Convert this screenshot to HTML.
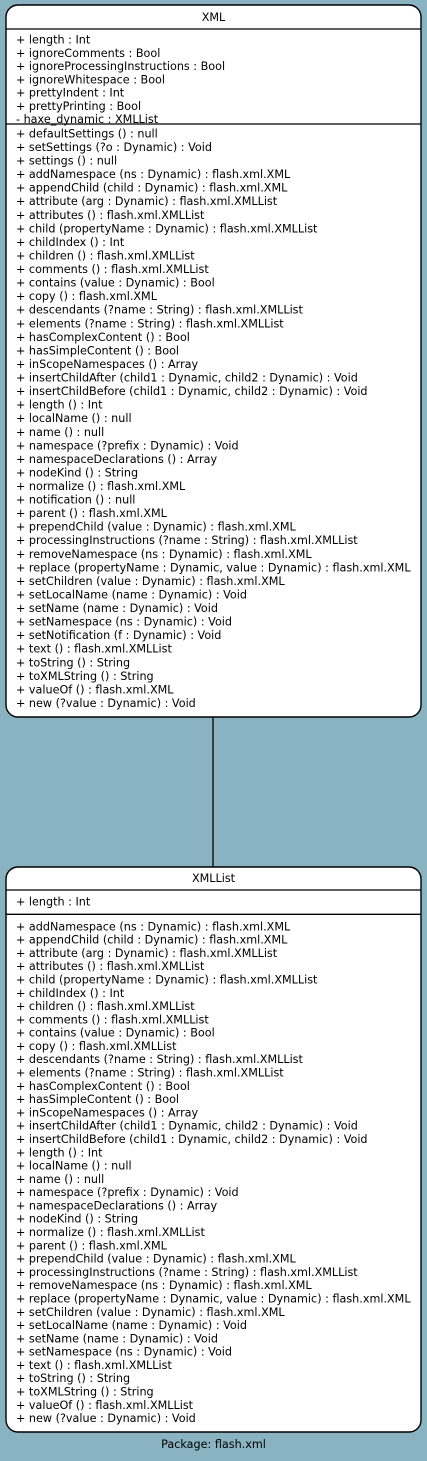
<!DOCTYPE html>
<html><head><meta charset="utf-8"><style>
html,body{margin:0;padding:0;background:#89b3c1;}
svg{display:block}
text{font-family:"DejaVu Sans","Liberation Sans",sans-serif;font-size:11.2px;fill:#000}
</style></head><body>
<svg width="427" height="1461" viewBox="0 0 427 1461" xmlns="http://www.w3.org/2000/svg">
<rect x="0" y="0" width="427" height="1461" fill="#89b3c1"/>
<line x1="213" y1="717" x2="213" y2="867" stroke="#000" stroke-width="1.3"/>
<!-- XML box -->
<path d="M18,5 H409 A12,12 0 0 1 421,17 V705 A12,12 0 0 1 409,717 H18 A12,12 0 0 1 6,705 V17 A12,12 0 0 1 18,5 Z" fill="#fff" stroke="#000" stroke-width="1.4"/>
<line x1="6" y1="29" x2="421" y2="29" stroke="#000" stroke-width="1.3"/>
<line x1="6" y1="124" x2="421" y2="124" stroke="#000" stroke-width="1.3"/>
<text x="213.5" y="21" text-anchor="middle">XML</text>
<g>
<text x="16" y="43.5">+ length : Int</text>
<text x="16" y="56.8">+ ignoreComments : Bool</text>
<text x="16" y="70.1">+ ignoreProcessingInstructions : Bool</text>
<text x="16" y="83.4">+ ignoreWhitespace : Bool</text>
<text x="16" y="96.7">+ prettyIndent : Int</text>
<text x="16" y="110.0">+ prettyPrinting : Bool</text>
<text x="16" y="123.2">- haxe_dynamic : XMLList</text>
</g>
<g>
<text x="16" y="137.5">+ defaultSettings () : null</text>
<text x="16" y="151.0">+ setSettings (?o : Dynamic) : Void</text>
<text x="16" y="164.6">+ settings () : null</text>
<text x="16" y="178.1">+ addNamespace (ns : Dynamic) : flash.xml.XML</text>
<text x="16" y="191.7">+ appendChild (child : Dynamic) : flash.xml.XML</text>
<text x="16" y="205.2">+ attribute (arg : Dynamic) : flash.xml.XMLList</text>
<text x="16" y="218.8">+ attributes () : flash.xml.XMLList</text>
<text x="16" y="232.4">+ child (propertyName : Dynamic) : flash.xml.XMLList</text>
<text x="16" y="245.9">+ childIndex () : Int</text>
<text x="16" y="259.5">+ children () : flash.xml.XMLList</text>
<text x="16" y="273.0">+ comments () : flash.xml.XMLList</text>
<text x="16" y="286.6">+ contains (value : Dynamic) : Bool</text>
<text x="16" y="300.2">+ copy () : flash.xml.XML</text>
<text x="16" y="313.7">+ descendants (?name : String) : flash.xml.XMLList</text>
<text x="16" y="327.3">+ elements (?name : String) : flash.xml.XMLList</text>
<text x="16" y="340.8">+ hasComplexContent () : Bool</text>
<text x="16" y="354.4">+ hasSimpleContent () : Bool</text>
<text x="16" y="368.0">+ inScopeNamespaces () : Array</text>
<text x="16" y="381.5">+ insertChildAfter (child1 : Dynamic, child2 : Dynamic) : Void</text>
<text x="16" y="395.1">+ insertChildBefore (child1 : Dynamic, child2 : Dynamic) : Void</text>
<text x="16" y="408.6">+ length () : Int</text>
<text x="16" y="422.2">+ localName () : null</text>
<text x="16" y="435.8">+ name () : null</text>
<text x="16" y="449.3">+ namespace (?prefix : Dynamic) : Void</text>
<text x="16" y="462.9">+ namespaceDeclarations () : Array</text>
<text x="16" y="476.4">+ nodeKind () : String</text>
<text x="16" y="490.0">+ normalize () : flash.xml.XML</text>
<text x="16" y="503.6">+ notification () : null</text>
<text x="16" y="517.1">+ parent () : flash.xml.XML</text>
<text x="16" y="530.7">+ prependChild (value : Dynamic) : flash.xml.XML</text>
<text x="16" y="544.2">+ processingInstructions (?name : String) : flash.xml.XMLList</text>
<text x="16" y="557.8">+ removeNamespace (ns : Dynamic) : flash.xml.XML</text>
<text x="16" y="571.4">+ replace (propertyName : Dynamic, value : Dynamic) : flash.xml.XML</text>
<text x="16" y="584.9">+ setChildren (value : Dynamic) : flash.xml.XML</text>
<text x="16" y="598.5">+ setLocalName (name : Dynamic) : Void</text>
<text x="16" y="612.0">+ setName (name : Dynamic) : Void</text>
<text x="16" y="625.6">+ setNamespace (ns : Dynamic) : Void</text>
<text x="16" y="639.2">+ setNotification (f : Dynamic) : Void</text>
<text x="16" y="652.7">+ text () : flash.xml.XMLList</text>
<text x="16" y="666.3">+ toString () : String</text>
<text x="16" y="679.8">+ toXMLString () : String</text>
<text x="16" y="693.4">+ valueOf () : flash.xml.XML</text>
<text x="16" y="706.9">+ new (?value : Dynamic) : Void</text>
</g>
<!-- XMLList box -->
<path d="M18,867 H409 A12,12 0 0 1 421,879 V1420 A12,12 0 0 1 409,1432 H18 A12,12 0 0 1 6,1420 V879 A12,12 0 0 1 18,867 Z" fill="#fff" stroke="#000" stroke-width="1.4"/>
<line x1="6" y1="890" x2="421" y2="890" stroke="#000" stroke-width="1.3"/>
<line x1="6" y1="914.3" x2="421" y2="914.3" stroke="#000" stroke-width="1.3"/>
<text x="213.5" y="882" text-anchor="middle">XMLList</text>
<text x="16" y="905.5">+ length : Int</text>
<g>
<text x="16" y="930.3">+ addNamespace (ns : Dynamic) : flash.xml.XML</text>
<text x="16" y="943.6">+ appendChild (child : Dynamic) : flash.xml.XML</text>
<text x="16" y="956.9">+ attribute (arg : Dynamic) : flash.xml.XMLList</text>
<text x="16" y="970.2">+ attributes () : flash.xml.XMLList</text>
<text x="16" y="983.5">+ child (propertyName : Dynamic) : flash.xml.XMLList</text>
<text x="16" y="996.8">+ childIndex () : Int</text>
<text x="16" y="1010.0">+ children () : flash.xml.XMLList</text>
<text x="16" y="1023.3">+ comments () : flash.xml.XMLList</text>
<text x="16" y="1036.6">+ contains (value : Dynamic) : Bool</text>
<text x="16" y="1049.9">+ copy () : flash.xml.XMLList</text>
<text x="16" y="1063.2">+ descendants (?name : String) : flash.xml.XMLList</text>
<text x="16" y="1076.5">+ elements (?name : String) : flash.xml.XMLList</text>
<text x="16" y="1089.8">+ hasComplexContent () : Bool</text>
<text x="16" y="1103.1">+ hasSimpleContent () : Bool</text>
<text x="16" y="1116.4">+ inScopeNamespaces () : Array</text>
<text x="16" y="1129.7">+ insertChildAfter (child1 : Dynamic, child2 : Dynamic) : Void</text>
<text x="16" y="1143.0">+ insertChildBefore (child1 : Dynamic, child2 : Dynamic) : Void</text>
<text x="16" y="1156.3">+ length () : Int</text>
<text x="16" y="1169.5">+ localName () : null</text>
<text x="16" y="1182.8">+ name () : null</text>
<text x="16" y="1196.1">+ namespace (?prefix : Dynamic) : Void</text>
<text x="16" y="1209.4">+ namespaceDeclarations () : Array</text>
<text x="16" y="1222.7">+ nodeKind () : String</text>
<text x="16" y="1236.0">+ normalize () : flash.xml.XMLList</text>
<text x="16" y="1249.3">+ parent () : flash.xml.XML</text>
<text x="16" y="1262.6">+ prependChild (value : Dynamic) : flash.xml.XML</text>
<text x="16" y="1275.9">+ processingInstructions (?name : String) : flash.xml.XMLList</text>
<text x="16" y="1289.2">+ removeNamespace (ns : Dynamic) : flash.xml.XML</text>
<text x="16" y="1302.5">+ replace (propertyName : Dynamic, value : Dynamic) : flash.xml.XML</text>
<text x="16" y="1315.8">+ setChildren (value : Dynamic) : flash.xml.XML</text>
<text x="16" y="1329.0">+ setLocalName (name : Dynamic) : Void</text>
<text x="16" y="1342.3">+ setName (name : Dynamic) : Void</text>
<text x="16" y="1355.6">+ setNamespace (ns : Dynamic) : Void</text>
<text x="16" y="1368.9">+ text () : flash.xml.XMLList</text>
<text x="16" y="1382.2">+ toString () : String</text>
<text x="16" y="1395.5">+ toXMLString () : String</text>
<text x="16" y="1408.8">+ valueOf () : flash.xml.XMLList</text>
<text x="16" y="1422.0">+ new (?value : Dynamic) : Void</text>
</g>
<text x="213.5" y="1448" text-anchor="middle">Package: flash.xml</text>
</svg>
</body></html>
